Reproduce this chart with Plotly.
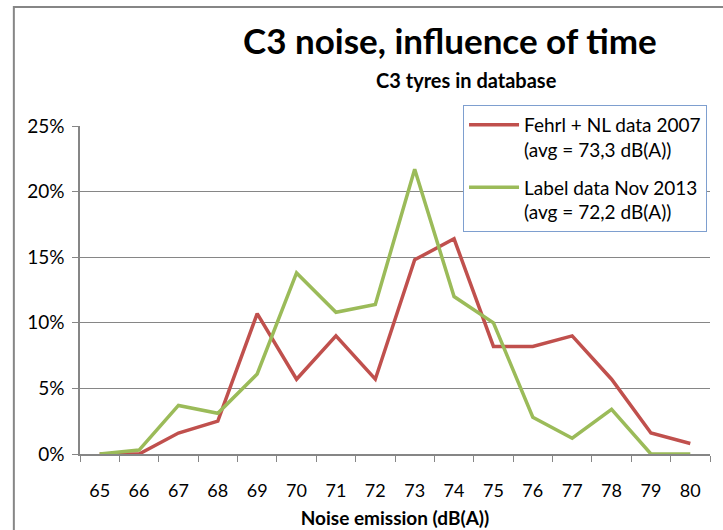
import plotly.graph_objects as go

# Noise emission classes (dB(A)) and share of tyres per class (%)
noise_db = ["65", "66", "67", "68", "69", "70", "71", "72",
            "73", "74", "75", "76", "77", "78", "79", "80"]
fehrl_2007 = [0.0, 0.0, 1.6, 2.5, 10.7, 5.7, 9.0, 5.7,
              14.8, 16.4, 8.2, 8.2, 9.0, 5.7, 1.6, 0.8]
label_2013 = [0.0, 0.3, 3.7, 3.1, 6.1, 13.8, 10.8, 11.4,
              21.7, 12.0, 10.0, 2.8, 1.2, 3.4, 0.0, 0.0]
y_ticks = [0, 5, 10, 15, 20, 25]
y_labels = ["0%", "5%", "10%", "15%", "20%", "25%"]

FONT = "Lato, Liberation Sans Narrow, sans-serif"

fig = go.Figure()
fig.add_trace(go.Scatter(x=noise_db, y=fehrl_2007, mode="lines", legendgroup="a",
                         name="Fehrl + NL data 2007<br>(avg = 73,3 dB(A))",
                         line=dict(color="#C0504D", width=3.5), cliponaxis=False))
fig.add_trace(go.Scatter(x=noise_db, y=label_2013, mode="lines", legendgroup="b",
                         name="Label data Nov 2013<br>(avg = 72,2 dB(A))",
                         line=dict(color="#9BBB59", width=3.5), cliponaxis=False))

# Outer chart frame (runs off the right and bottom edge of the picture)
fig.add_shape(type="rect", xref="paper", yref="paper", x0=-0.105, y0=-0.3, x1=1.2, y1=1.363,
              line=dict(color="#868686", width=2))

fig.add_annotation(text="<b>C3 noise, influence of time</b>", xref="paper", yref="paper",
                   x=0.587, y=1.262, yanchor="middle", showarrow=False,
                   font=dict(size=35, color="black", family=FONT))
fig.add_annotation(text="<b>C3 tyres in database</b>", xref="paper", yref="paper",
                   x=0.613, y=1.14, yanchor="middle", showarrow=False,
                   font=dict(size=20, color="black", family=FONT))

fig.update_layout(
    width=723, height=530,
    margin=dict(l=80, r=13, t=126, b=76, autoexpand=False),
    paper_bgcolor="white", plot_bgcolor="white",
    font=dict(family=FONT, size=17, color="black"),
    showlegend=True,
    legend=dict(x=0.608, y=1.064, xanchor="left", yanchor="top",
                bgcolor="white", bordercolor="#7E9FCF", borderwidth=1,
                font=dict(size=19), itemwidth=50, valign="top",
                traceorder="grouped", tracegroupgap=10),
    xaxis=dict(type="category", range=[-0.5, 15.5], tickson="boundaries",
               ticks="outside", ticklen=6, tickcolor="#868686",
               showline=True, linecolor="#868686", linewidth=1.5,
               showgrid=False, tickfont=dict(size=18), ticklabelstandoff=20,
               title=dict(text="<b>Noise emission (dB(A))</b>", font=dict(size=19), standoff=11)),
    yaxis=dict(range=[0, 25], tickvals=y_ticks, ticktext=y_labels,
               ticks="outside", ticklen=6, tickcolor="#868686",
               showline=True, linecolor="#868686", linewidth=1.5,
               gridcolor="#868686", gridwidth=1, zeroline=False,
               tickfont=dict(size=19), ticklabelstandoff=4),
)

# the page adds a default body margin; drop it so the figure sits at the window corner
fig.write_html("out.html", config={"displayModeBar": False},
               post_script="document.body.style.margin='0';")
